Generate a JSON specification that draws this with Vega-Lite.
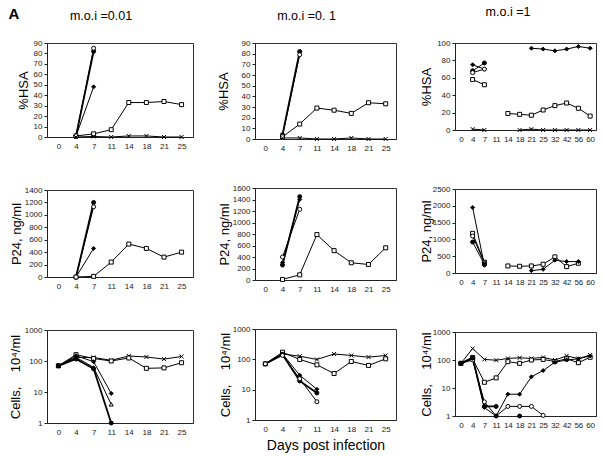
{
"$schema":"https://vega.github.io/schema/vega-lite/v6.json",
"padding":{"left":8,"top":6,"right":2,"bottom":2},
"title":{"text":"A","anchor":"start","fontSize":15,"fontWeight":"bold","offset":-16},
"spacing":22,
"datasets":{
"h1":[
{"d":4,"v":1,"s":"fc","g":"fc"},{"d":7,"v":82,"s":"fc","g":"fc"},
{"d":4,"v":1,"s":"fd","g":"fd"},{"d":7,"v":48,"s":"fd","g":"fd"},
{"d":4,"v":1,"s":"oc","g":"oc"},{"d":7,"v":85,"s":"oc","g":"oc"},
{"d":4,"v":1,"s":"sq","g":"sq"},{"d":7,"v":3,"s":"sq","g":"sq"},{"d":11,"v":7,"s":"sq","g":"sq"},{"d":14,"v":33,"s":"sq","g":"sq"},{"d":18,"v":33,"s":"sq","g":"sq"},{"d":21,"v":34,"s":"sq","g":"sq"},{"d":25,"v":31,"s":"sq","g":"sq"},
{"d":4,"v":0,"s":"x","g":"x"},{"d":7,"v":0.5,"s":"x","g":"x"},{"d":11,"v":0,"s":"x","g":"x"},{"d":14,"v":1,"s":"x","g":"x"},{"d":18,"v":1,"s":"x","g":"x"},{"d":21,"v":0,"s":"x","g":"x"},{"d":25,"v":0,"s":"x","g":"x"}
],
"h2":[
{"d":4,"v":4,"s":"fc","g":"fc"},{"d":7,"v":82,"s":"fc","g":"fc"},
{"d":4,"v":3,"s":"oc","g":"oc"},{"d":7,"v":79,"s":"oc","g":"oc"},
{"d":4,"v":2,"s":"sq","g":"sq"},{"d":7,"v":14,"s":"sq","g":"sq"},{"d":11,"v":29,"s":"sq","g":"sq"},{"d":14,"v":27,"s":"sq","g":"sq"},{"d":18,"v":24,"s":"sq","g":"sq"},{"d":21,"v":34,"s":"sq","g":"sq"},{"d":25,"v":33,"s":"sq","g":"sq"},
{"d":4,"v":1,"s":"x","g":"x"},{"d":7,"v":1,"s":"x","g":"x"},{"d":11,"v":0,"s":"x","g":"x"},{"d":14,"v":0,"s":"x","g":"x"},{"d":18,"v":1,"s":"x","g":"x"},{"d":21,"v":0,"s":"x","g":"x"},{"d":25,"v":0,"s":"x","g":"x"}
],
"h3":[
{"d":4,"v":68,"s":"fc","g":"fc"},{"d":7,"v":77,"s":"fc","g":"fc"},
{"d":4,"v":75,"s":"fd","g":"fd"},{"d":7,"v":70,"s":"fd","g":"fd"},
{"d":4,"v":66,"s":"oc","g":"oc"},{"d":7,"v":70,"s":"oc","g":"oc"},
{"d":4,"v":58,"s":"sq","g":"sqa"},{"d":7,"v":52,"s":"sq","g":"sqa"},
{"d":14,"v":19,"s":"sq","g":"sqb"},{"d":18,"v":18,"s":"sq","g":"sqb"},{"d":21,"v":17,"s":"sq","g":"sqb"},{"d":25,"v":23,"s":"sq","g":"sqb"},{"d":32,"v":28,"s":"sq","g":"sqb"},{"d":42,"v":31,"s":"sq","g":"sqb"},{"d":56,"v":25,"s":"sq","g":"sqb"},{"d":60,"v":16,"s":"sq","g":"sqb"},
{"d":4,"v":1,"s":"x","g":"xa"},{"d":7,"v":0,"s":"x","g":"xa"},
{"d":18,"v":0,"s":"x","g":"xb"},{"d":21,"v":1,"s":"x","g":"xb"},{"d":25,"v":0,"s":"x","g":"xb"},{"d":32,"v":0,"s":"x","g":"xb"},{"d":42,"v":0,"s":"x","g":"xb"},{"d":56,"v":0,"s":"x","g":"xb"},{"d":60,"v":0,"s":"x","g":"xb"},
{"d":21,"v":94,"s":"fd","g":"fdb"},{"d":25,"v":93,"s":"fd","g":"fdb"},{"d":32,"v":91,"s":"fd","g":"fdb"},{"d":42,"v":93,"s":"fd","g":"fdb"},{"d":56,"v":96,"s":"fd","g":"fdb"},{"d":60,"v":94,"s":"fd","g":"fdb"}
],
"p1":[
{"d":4,"v":0,"s":"fc","g":"fc"},{"d":7,"v":1200,"s":"fc","g":"fc"},
{"d":4,"v":0,"s":"oc","g":"oc"},{"d":7,"v":1130,"s":"oc","g":"oc"},
{"d":4,"v":0,"s":"fd","g":"fd"},{"d":7,"v":460,"s":"fd","g":"fd"},
{"d":4,"v":0,"s":"sq","g":"sq"},{"d":7,"v":10,"s":"sq","g":"sq"},{"d":11,"v":240,"s":"sq","g":"sq"},{"d":14,"v":530,"s":"sq","g":"sq"},{"d":18,"v":460,"s":"sq","g":"sq"},{"d":21,"v":320,"s":"sq","g":"sq"},{"d":25,"v":400,"s":"sq","g":"sq"}
],
"p2":[
{"d":4,"v":260,"s":"fc","g":"fc"},{"d":7,"v":1450,"s":"fc","g":"fc"},
{"d":4,"v":300,"s":"fd","g":"fd"},{"d":7,"v":1400,"s":"fd","g":"fd"},
{"d":4,"v":400,"s":"oc","g":"oc"},{"d":7,"v":1230,"s":"oc","g":"oc"},
{"d":4,"v":10,"s":"sq","g":"sq"},{"d":7,"v":90,"s":"sq","g":"sq"},{"d":11,"v":790,"s":"sq","g":"sq"},{"d":14,"v":510,"s":"sq","g":"sq"},{"d":18,"v":300,"s":"sq","g":"sq"},{"d":21,"v":270,"s":"sq","g":"sq"},{"d":25,"v":560,"s":"sq","g":"sq"}
],
"p3":[
{"d":4,"v":1950,"s":"fd","g":"fd"},{"d":7,"v":230,"s":"fd","g":"fd"},
{"d":4,"v":1180,"s":"sq","g":"sqa"},{"d":7,"v":320,"s":"sq","g":"sqa"},
{"d":4,"v":1100,"s":"oc","g":"oc"},{"d":7,"v":300,"s":"oc","g":"oc"},
{"d":4,"v":920,"s":"fc","g":"fc"},{"d":7,"v":260,"s":"fc","g":"fc"},
{"d":14,"v":210,"s":"sq","g":"sqb"},{"d":18,"v":200,"s":"sq","g":"sqb"},{"d":21,"v":210,"s":"sq","g":"sqb"},{"d":25,"v":260,"s":"sq","g":"sqb"},{"d":32,"v":480,"s":"sq","g":"sqb"},{"d":42,"v":190,"s":"sq","g":"sqb"},{"d":56,"v":290,"s":"sq","g":"sqb"},
{"d":21,"v":70,"s":"fd","g":"fdb"},{"d":25,"v":110,"s":"fd","g":"fdb"},{"d":32,"v":380,"s":"fd","g":"fdb"},{"d":42,"v":340,"s":"fd","g":"fdb"},{"d":56,"v":340,"s":"fd","g":"fdb"}
],
"c1":[
{"d":0,"v":70,"s":"x","g":"x"},{"d":4,"v":130,"s":"x","g":"x"},{"d":7,"v":130,"s":"x","g":"x"},{"d":11,"v":105,"s":"x","g":"x"},{"d":14,"v":145,"s":"x","g":"x"},{"d":18,"v":135,"s":"x","g":"x"},{"d":21,"v":115,"s":"x","g":"x"},{"d":25,"v":140,"s":"x","g":"x"},
{"d":0,"v":70,"s":"sq","g":"sq"},{"d":4,"v":160,"s":"sq","g":"sq"},{"d":7,"v":120,"s":"sq","g":"sq"},{"d":11,"v":100,"s":"sq","g":"sq"},{"d":14,"v":125,"s":"sq","g":"sq"},{"d":18,"v":58,"s":"sq","g":"sq"},{"d":21,"v":60,"s":"sq","g":"sq"},{"d":25,"v":88,"s":"sq","g":"sq"},
{"d":0,"v":70,"s":"fd","g":"fd"},{"d":4,"v":148,"s":"fd","g":"fd"},{"d":7,"v":95,"s":"fd","g":"fd"},{"d":11,"v":9,"s":"fd","g":"fd"},
{"d":0,"v":70,"s":"tri","g":"tri"},{"d":4,"v":131,"s":"tri","g":"tri"},{"d":7,"v":62,"s":"tri","g":"tri"},{"d":11,"v":4,"s":"tri","g":"tri"},
{"d":0,"v":70,"s":"fc","g":"fc"},{"d":4,"v":116,"s":"fc","g":"fc"},{"d":7,"v":56,"s":"fc","g":"fc"},{"d":11,"v":1,"s":"fc","g":"fc"}
],
"c2":[
{"d":0,"v":71,"s":"x","g":"x"},{"d":4,"v":150,"s":"x","g":"x"},{"d":7,"v":127,"s":"x","g":"x"},{"d":11,"v":99,"s":"x","g":"x"},{"d":14,"v":150,"s":"x","g":"x"},{"d":18,"v":134,"s":"x","g":"x"},{"d":21,"v":118,"s":"x","g":"x"},{"d":25,"v":134,"s":"x","g":"x"},
{"d":0,"v":71,"s":"sq","g":"sq"},{"d":4,"v":172,"s":"sq","g":"sq"},{"d":7,"v":99,"s":"sq","g":"sq"},{"d":11,"v":66,"s":"sq","g":"sq"},{"d":14,"v":34,"s":"sq","g":"sq"},{"d":18,"v":85,"s":"sq","g":"sq"},{"d":21,"v":63,"s":"sq","g":"sq"},{"d":25,"v":104,"s":"sq","g":"sq"},
{"d":0,"v":71,"s":"fd","g":"fd"},{"d":4,"v":151,"s":"fd","g":"fd"},{"d":7,"v":30,"s":"fd","g":"fd"},{"d":11,"v":10.3,"s":"fd","g":"fd"},
{"d":0,"v":71,"s":"fc","g":"fc"},{"d":4,"v":145,"s":"fc","g":"fc"},{"d":7,"v":19.4,"s":"fc","g":"fc"},{"d":11,"v":7.8,"s":"fc","g":"fc"},
{"d":0,"v":71,"s":"oc","g":"oc"},{"d":4,"v":135,"s":"oc","g":"oc"},{"d":7,"v":23,"s":"oc","g":"oc"},{"d":11,"v":4,"s":"oc","g":"oc"}
],
"c3":[
{"d":0,"v":76,"s":"x","g":"x"},{"d":4,"v":256,"s":"x","g":"x"},{"d":7,"v":105,"s":"x","g":"x"},{"d":11,"v":98,"s":"x","g":"x"},{"d":14,"v":114,"s":"x","g":"x"},{"d":18,"v":120,"s":"x","g":"x"},{"d":21,"v":114,"s":"x","g":"x"},{"d":25,"v":124,"s":"x","g":"x"},{"d":32,"v":100,"s":"x","g":"x"},{"d":42,"v":140,"s":"x","g":"x"},{"d":56,"v":112,"s":"x","g":"x"},{"d":60,"v":150,"s":"x","g":"x"},
{"d":0,"v":76,"s":"sq","g":"sq"},{"d":4,"v":110,"s":"sq","g":"sq"},{"d":7,"v":16,"s":"sq","g":"sq"},{"d":11,"v":23,"s":"sq","g":"sq"},{"d":14,"v":87,"s":"sq","g":"sq"},{"d":18,"v":76,"s":"sq","g":"sq"},{"d":21,"v":100,"s":"sq","g":"sq"},{"d":25,"v":105,"s":"sq","g":"sq"},{"d":32,"v":88,"s":"sq","g":"sq"},{"d":42,"v":110,"s":"sq","g":"sq"},{"d":56,"v":80,"s":"sq","g":"sq"},{"d":60,"v":125,"s":"sq","g":"sq"},
{"d":0,"v":76,"s":"oc","g":"oc"},{"d":4,"v":100,"s":"oc","g":"oc"},{"d":7,"v":3.2,"s":"oc","g":"oc"},{"d":11,"v":1,"s":"oc","g":"oc"},{"d":14,"v":2.2,"s":"oc","g":"oc"},{"d":18,"v":2.2,"s":"oc","g":"oc"},{"d":21,"v":2.2,"s":"oc","g":"oc"},{"d":25,"v":1.05,"s":"oc","g":"oc"},
{"d":0,"v":76,"s":"fd","g":"fd"},{"d":4,"v":114,"s":"fd","g":"fd"},{"d":7,"v":2,"s":"fd","g":"fd"},{"d":11,"v":1,"s":"fd","g":"fd"},{"d":14,"v":6,"s":"fd","g":"fd"},{"d":18,"v":6,"s":"fd","g":"fd"},{"d":21,"v":25,"s":"fd","g":"fd"},{"d":25,"v":42,"s":"fd","g":"fd"},{"d":32,"v":83,"s":"fd","g":"fd"},{"d":42,"v":100,"s":"fd","g":"fd"},{"d":56,"v":110,"s":"fd","g":"fd"},{"d":60,"v":140,"s":"fd","g":"fd"},
{"d":0,"v":76,"s":"fc","g":"fc"},{"d":4,"v":123,"s":"fsq","g":"fc"},{"d":7,"v":2.2,"s":"fc","g":"fc"},{"d":11,"v":2.2,"s":"fc","g":"fc"},
{"d":18,"v":1,"s":"fc","g":"dot"}
]
},
"hconcat":[
{"title":{"text":"m.o.i =0.01","fontSize":12.5,"fontWeight":"normal","anchor":"middle","offset":16},
 "spacing":34,
 "vconcat":[
 {"width":146,"height":94,"data":{"name":"h1"},
  "encoding":{"x":{"field":"d","type":"ordinal","scale":{"type":"point","domain":[0,4,7,11,14,18,21,25],"padding":0.65},"axis":{"title":null,"labelAngle":0,"ticks":false,"labelPadding":5}},
   "y":{"field":"v","type":"quantitative","scale":{"domain":[0,90],"nice":false},"axis":{"title":"%HSA","values":[0,10,20,30,40,50,60,70,80,90],"format":"d","titleX":-17}}},
  "layer":[
   {"mark":{"type":"line","color":"black"},"encoding":{"detail":{"field":"g"},"strokeWidth":{"condition":{"test":"datum.g==='fc'","value":1.8},"value":1}}},
   {"mark":{"type":"point","filled":true,"stroke":"black","strokeWidth":1,"size":16,"opacity":1},"encoding":{"shape":{"field":"s","scale":{"domain":["fc","oc","fd","sq","x","tri","fsq"],"range":["circle","circle","diamond","square","M-1,-1L1,1M-1,1L1,-1","triangle-up","square"]},"legend":null},"fill":{"field":"s","scale":{"domain":["fc","oc","fd","sq","x","tri","fsq"],"range":["black","white","black","white","black","white","black"]},"legend":null}}}
  ]},
 {"width":146,"height":87,"data":{"name":"p1"},
  "encoding":{"x":{"field":"d","type":"ordinal","scale":{"type":"point","domain":[0,4,7,11,14,18,21,25],"padding":0.65},"axis":{"title":null,"labelAngle":0,"ticks":false,"labelPadding":5}},
   "y":{"field":"v","type":"quantitative","scale":{"domain":[0,1400],"nice":false},"axis":{"title":"P24, ng/ml","values":[0,200,400,600,800,1000,1200,1400],"format":"d","titleX":-24}}},
  "layer":[
   {"mark":{"type":"line","color":"black"},"encoding":{"detail":{"field":"g"},"strokeWidth":{"condition":{"test":"datum.g==='fc'","value":1.8},"value":1}}},
   {"mark":{"type":"point","filled":true,"stroke":"black","strokeWidth":1,"size":16,"opacity":1},"encoding":{"shape":{"field":"s","scale":{"domain":["fc","oc","fd","sq","x","tri","fsq"],"range":["circle","circle","diamond","square","M-1,-1L1,1M-1,1L1,-1","triangle-up","square"]},"legend":null},"fill":{"field":"s","scale":{"domain":["fc","oc","fd","sq","x","tri","fsq"],"range":["black","white","black","white","black","white","black"]},"legend":null}}}
  ]},
 {"width":146,"height":93,"data":{"name":"c1"},
  "encoding":{"x":{"field":"d","type":"ordinal","scale":{"type":"point","domain":[0,4,7,11,14,18,21,25],"padding":0.65},"axis":{"title":null,"labelAngle":0,"ticks":false,"labelPadding":5}},
   "y":{"field":"v","type":"quantitative","scale":{"type":"log","domain":[1,1000],"nice":false},"axis":{"title":"Cells,\u00a0\u00a0\u00a0\u00a010⁴/ml","values":[1,10,100,1000],"format":"d","titleX":-25}}},
  "layer":[
   {"mark":{"type":"line","color":"black"},"encoding":{"detail":{"field":"g"},"strokeWidth":{"condition":{"test":"datum.g==='fc'","value":1.8},"value":1}}},
   {"mark":{"type":"point","filled":true,"stroke":"black","strokeWidth":1,"size":16,"opacity":1},"encoding":{"shape":{"field":"s","scale":{"domain":["fc","oc","fd","sq","x","tri","fsq"],"range":["circle","circle","diamond","square","M-1,-1L1,1M-1,1L1,-1","triangle-up","square"]},"legend":null},"fill":{"field":"s","scale":{"domain":["fc","oc","fd","sq","x","tri","fsq"],"range":["black","white","black","white","black","white","black"]},"legend":null}}}
  ]}
 ]},
{"title":{"text":"m.o.i =0. 1","fontSize":12.5,"fontWeight":"normal","anchor":"middle","offset":16},
 "spacing":30,
 "vconcat":[
 {"width":141,"height":96,"data":{"name":"h2"},
  "encoding":{"x":{"field":"d","type":"ordinal","scale":{"type":"point","domain":[0,4,7,11,14,18,21,25],"padding":0.6},"axis":{"title":null,"labelAngle":0,"ticks":false,"labelPadding":5}},
   "y":{"field":"v","type":"quantitative","scale":{"domain":[0,90],"nice":false},"axis":{"title":"%HSA","values":[0,10,20,30,40,50,60,70,80,90],"format":"d","titleX":-25}}},
  "layer":[
   {"mark":{"type":"line","color":"black"},"encoding":{"detail":{"field":"g"},"strokeWidth":{"condition":{"test":"datum.g==='fc'","value":1.8},"value":1}}},
   {"mark":{"type":"point","filled":true,"stroke":"black","strokeWidth":1,"size":16,"opacity":1},"encoding":{"shape":{"field":"s","scale":{"domain":["fc","oc","fd","sq","x","tri","fsq"],"range":["circle","circle","diamond","square","M-1,-1L1,1M-1,1L1,-1","triangle-up","square"]},"legend":null},"fill":{"field":"s","scale":{"domain":["fc","oc","fd","sq","x","tri","fsq"],"range":["black","white","black","white","black","white","black"]},"legend":null}}}
  ]},
 {"width":141,"height":92,"data":{"name":"p2"},
  "encoding":{"x":{"field":"d","type":"ordinal","scale":{"type":"point","domain":[0,4,7,11,14,18,21,25],"padding":0.6},"axis":{"title":null,"labelAngle":0,"ticks":false,"labelPadding":5}},
   "y":{"field":"v","type":"quantitative","scale":{"domain":[0,1600],"nice":false},"axis":{"title":"P24, ng/ml","values":[0,200,400,600,800,1000,1200,1400,1600],"format":"d","titleX":-24}}},
  "layer":[
   {"mark":{"type":"line","color":"black"},"encoding":{"detail":{"field":"g"},"strokeWidth":{"condition":{"test":"datum.g==='fc'","value":1.8},"value":1}}},
   {"mark":{"type":"point","filled":true,"stroke":"black","strokeWidth":1,"size":16,"opacity":1},"encoding":{"shape":{"field":"s","scale":{"domain":["fc","oc","fd","sq","x","tri","fsq"],"range":["circle","circle","diamond","square","M-1,-1L1,1M-1,1L1,-1","triangle-up","square"]},"legend":null},"fill":{"field":"s","scale":{"domain":["fc","oc","fd","sq","x","tri","fsq"],"range":["black","white","black","white","black","white","black"]},"legend":null}}}
  ]},
 {"width":141,"height":91,"data":{"name":"c2"},
  "encoding":{"x":{"field":"d","type":"ordinal","scale":{"type":"point","domain":[0,4,7,11,14,18,21,25],"padding":0.6},"axis":{"title":"Days post infection","titleFontSize":14,"titlePadding":5,"labelAngle":0,"ticks":false,"labelPadding":5}},
   "y":{"field":"v","type":"quantitative","scale":{"type":"log","domain":[1,1000],"nice":false},"axis":{"title":"Cells,\u00a0\u00a0\u00a0\u00a010⁴/ml","values":[1,10,100,1000],"format":"d","titleX":-23}}},
  "layer":[
   {"mark":{"type":"line","color":"black"},"encoding":{"detail":{"field":"g"},"strokeWidth":{"condition":{"test":"datum.g==='fc'","value":1.8},"value":1}}},
   {"mark":{"type":"point","filled":true,"stroke":"black","strokeWidth":1,"size":16,"opacity":1},"encoding":{"shape":{"field":"s","scale":{"domain":["fc","oc","fd","sq","x","tri","fsq"],"range":["circle","circle","diamond","square","M-1,-1L1,1M-1,1L1,-1","triangle-up","square"]},"legend":null},"fill":{"field":"s","scale":{"domain":["fc","oc","fd","sq","x","tri","fsq"],"range":["black","white","black","white","black","white","black"]},"legend":null}}}
  ]}
 ]},
{"title":{"text":"m.o.i =1","fontSize":12.5,"fontWeight":"normal","anchor":"middle","offset":20},
 "spacing":40,
 "vconcat":[
 {"width":141,"height":87,"data":{"name":"h3"},
  "encoding":{"x":{"field":"d","type":"ordinal","scale":{"type":"point","domain":[0,4,7,11,14,18,21,25,32,42,56,60],"padding":0.5},"axis":{"title":null,"labelAngle":0,"ticks":false,"labelPadding":5}},
   "y":{"field":"v","type":"quantitative","scale":{"domain":[0,100],"nice":false},"axis":{"title":"%HSA","values":[0,20,40,60,80,100],"format":"d","titleX":-22}}},
  "layer":[
   {"mark":{"type":"line","color":"black"},"encoding":{"detail":{"field":"g"},"strokeWidth":{"value":1}}},
   {"mark":{"type":"point","filled":true,"stroke":"black","strokeWidth":1,"size":16,"opacity":1},"encoding":{"shape":{"field":"s","scale":{"domain":["fc","oc","fd","sq","x","tri","fsq"],"range":["circle","circle","diamond","square","M-1,-1L1,1M-1,1L1,-1","triangle-up","square"]},"legend":null},"fill":{"field":"s","scale":{"domain":["fc","oc","fd","sq","x","tri","fsq"],"range":["black","white","black","white","black","white","black"]},"legend":null}}}
  ]},
 {"width":141,"height":84,"data":{"name":"p3"},
  "encoding":{"x":{"field":"d","type":"ordinal","scale":{"type":"point","domain":[0,4,7,11,14,18,21,25,32,42,56,60],"padding":0.5},"axis":{"title":null,"labelAngle":0,"ticks":false,"labelPadding":5}},
   "y":{"field":"v","type":"quantitative","scale":{"domain":[0,2500],"nice":false},"axis":{"title":"P24, ng/ml","values":[0,500,1000,1500,2000,2500],"format":"d","titleX":-22}}},
  "layer":[
   {"mark":{"type":"line","color":"black"},"encoding":{"detail":{"field":"g"},"strokeWidth":{"value":1}}},
   {"mark":{"type":"point","filled":true,"stroke":"black","strokeWidth":1,"size":16,"opacity":1},"encoding":{"shape":{"field":"s","scale":{"domain":["fc","oc","fd","sq","x","tri","fsq"],"range":["circle","circle","diamond","square","M-1,-1L1,1M-1,1L1,-1","triangle-up","square"]},"legend":null},"fill":{"field":"s","scale":{"domain":["fc","oc","fd","sq","x","tri","fsq"],"range":["black","white","black","white","black","white","black"]},"legend":null}}}
  ]},
 {"width":141,"height":84,"data":{"name":"c3"},
  "encoding":{"x":{"field":"d","type":"ordinal","scale":{"type":"point","domain":[0,4,7,11,14,18,21,25,32,42,56,60],"padding":0.5},"axis":{"title":null,"labelAngle":0,"ticks":false,"labelPadding":5}},
   "y":{"field":"v","type":"quantitative","scale":{"type":"log","domain":[1,1000],"nice":false},"axis":{"title":"Cells,\u00a0\u00a0\u00a0\u00a010⁴/ml","values":[1,10,100,1000],"format":"d","titleX":-22}}},
  "layer":[
   {"mark":{"type":"line","color":"black"},"encoding":{"detail":{"field":"g"},"strokeWidth":{"condition":{"test":"datum.g==='fc'","value":1.8},"value":1}}},
   {"mark":{"type":"point","filled":true,"stroke":"black","strokeWidth":1,"size":16,"opacity":1},"encoding":{"shape":{"field":"s","scale":{"domain":["fc","oc","fd","sq","x","tri","fsq"],"range":["circle","circle","diamond","square","M-1,-1L1,1M-1,1L1,-1","triangle-up","square"]},"legend":null},"fill":{"field":"s","scale":{"domain":["fc","oc","fd","sq","x","tri","fsq"],"range":["black","white","black","white","black","white","black"]},"legend":null}}}
  ]}
 ]}
],
"config":{
 "font":"Liberation Sans",
 "view":{"stroke":"#333","strokeWidth":1},
 "axis":{"labelFont":"Liberation Sans","labelFontSize":8,"labelColor":"#222","domainColor":"#222","tickColor":"#222","tickSize":3,"grid":false,"titleFont":"Liberation Sans","titleFontSize":13,"titleFontWeight":"normal","titleColor":"black"},
 "title":{"font":"Liberation Sans","color":"black"}
}
}
